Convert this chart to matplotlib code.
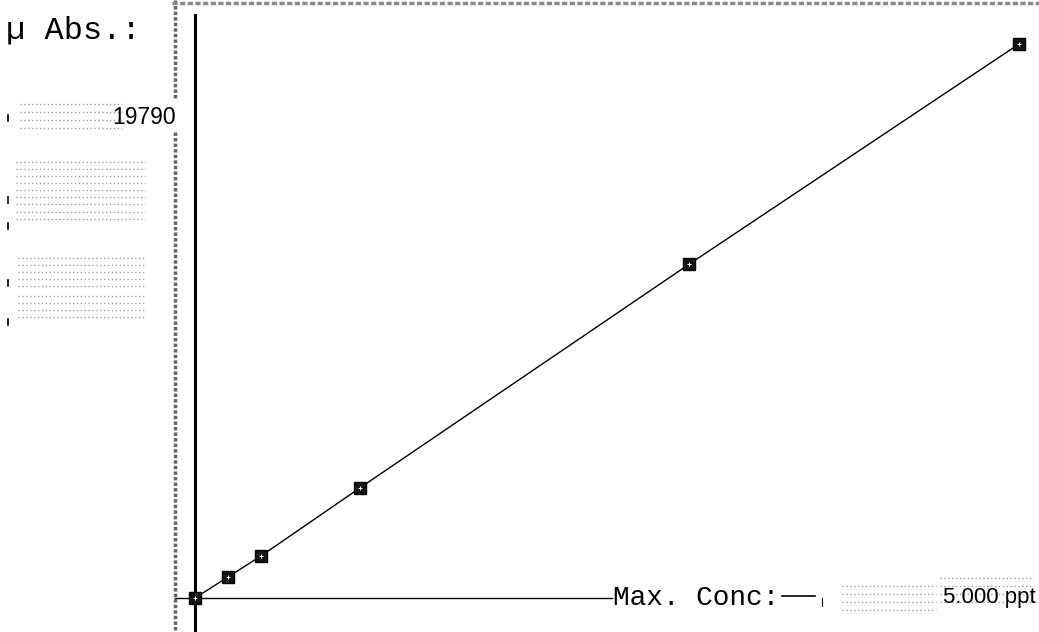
import numpy as np
import matplotlib.pyplot as plt
from matplotlib import font_manager

# calibration standards (ppt) and measured absorbance (micro Abs)
conc = [0.0, 0.2, 0.4, 1.0, 3.0, 5.0]
absorb = [0, 750, 1500, 3930, 11930, 19790]
max_abs_label = "19790"
max_conc_label = "5.000 ppt"

W, H = 1039, 632

names = set(f.name for f in font_manager.fontManager.ttflist)
narrow = "Liberation Sans Narrow" if "Liberation Sans Narrow" in names else "Liberation Sans"
mono = "Liberation Mono"

fig = plt.figure(figsize=(W / 100, H / 100), dpi=100)
ax = fig.add_axes([0, 0, 1, 1])
ax.set_axis_off()

# pixel layout of the scan: x=0 at px 195, 5 ppt at px 1019; y=0 at px 598, max at px 44
xs = (1019 - 195) / 5.0
ys = (598 - 44) / 19790.0
ax.set_xlim(-195 / xs, (W - 195) / xs)
ax.set_ylim(-(H - 598) / ys, 598 / ys)

def fx(px):
    return px / W

def fy(py):
    return 1 - py / H

T = ax.transAxes

# scanned frame (grey dithered)
ax.plot([fx(175), fx(175)], [fy(0), fy(100)], transform=T, color="#666666", lw=2.5, ls=(0, (1, 0.6)))
ax.plot([fx(175), fx(175)], [fy(132), fy(632)], transform=T, color="#666666", lw=2.5, ls=(0, (1, 0.6)))
ax.plot([fx(172), fx(1039)], [fy(3), fy(3)], transform=T, color="#888888", lw=2.5, ls=(0, (1.5, 0.7)))

# axes
ax.plot([0, 0], [ax.get_ylim()[1] - 15 / ys, ax.get_ylim()[0]], color="black", lw=2.2)
ax.plot([fx(175), fx(612)], [fy(598), fy(598)], transform=T, color="black", lw=1.0)
ax.plot([fx(782), fx(815)], [fy(596), fy(596)], transform=T, color="black", lw=1.2)
ax.plot([fx(822), fx(822)], [fy(598), fy(606)], transform=T, color="black", lw=0.8)

# curve
ax.plot(conc, absorb, color="black", lw=1.0, zorder=3)
ax.plot(conc, absorb, ls="none", marker="s", markersize=8.5, markerfacecolor="#151515",
        markeredgecolor="black", zorder=4)
ax.plot(conc, absorb, ls="none", marker="+", markersize=3.5, markeredgecolor="white",
        markeredgewidth=0.7, zorder=5)

# labels
ax.text(fx(6), fy(30), "\u00b5 Abs.:", transform=T, family=mono, fontsize=23,
        va="center", ha="left")
ax.text(fx(613), fy(598), "Max. Conc:", transform=T, family=mono, fontsize=20,
        va="center", ha="left")
ax.text(fx(176), fy(117), max_abs_label, transform=T, family=narrow, fontsize=16.5,
        va="center", ha="right")
ax.text(fx(1036), fy(598), max_conc_label, transform=T, family=narrow, fontsize=16,
        va="center", ha="right")

# grey dithered text blocks
dots = dict(transform=T, color="#a0a0a0", lw=1.0, ls=(0, (1, 1.8)))
for py in [104, 112, 120, 128]:
    ax.plot([fx(20), fx(122)], [fy(py), fy(py)], **dots)
for py in [162, 169, 176, 183, 190, 197, 204, 212, 219]:
    ax.plot([fx(16), fx(145)], [fy(py), fy(py)], **dots)
for py in [258, 265, 272, 279, 286, 296, 303, 310, 317]:
    ax.plot([fx(18), fx(145)], [fy(py), fy(py)], **dots)
for py in [586, 594, 602, 610]:
    ax.plot([fx(842), fx(936)], [fy(py), fy(py)], **dots)
    ax.plot([fx(940), fx(1032)], [fy(py - 8), fy(py - 8)], **dots)

# small black ticks on the left margin
for py in [118, 200, 226, 283, 322]:
    ax.plot([fx(8), fx(8)], [fy(py - 3), fy(py + 3)], transform=T, color="black", lw=1.2)

fig.savefig("out.png", dpi=100)
